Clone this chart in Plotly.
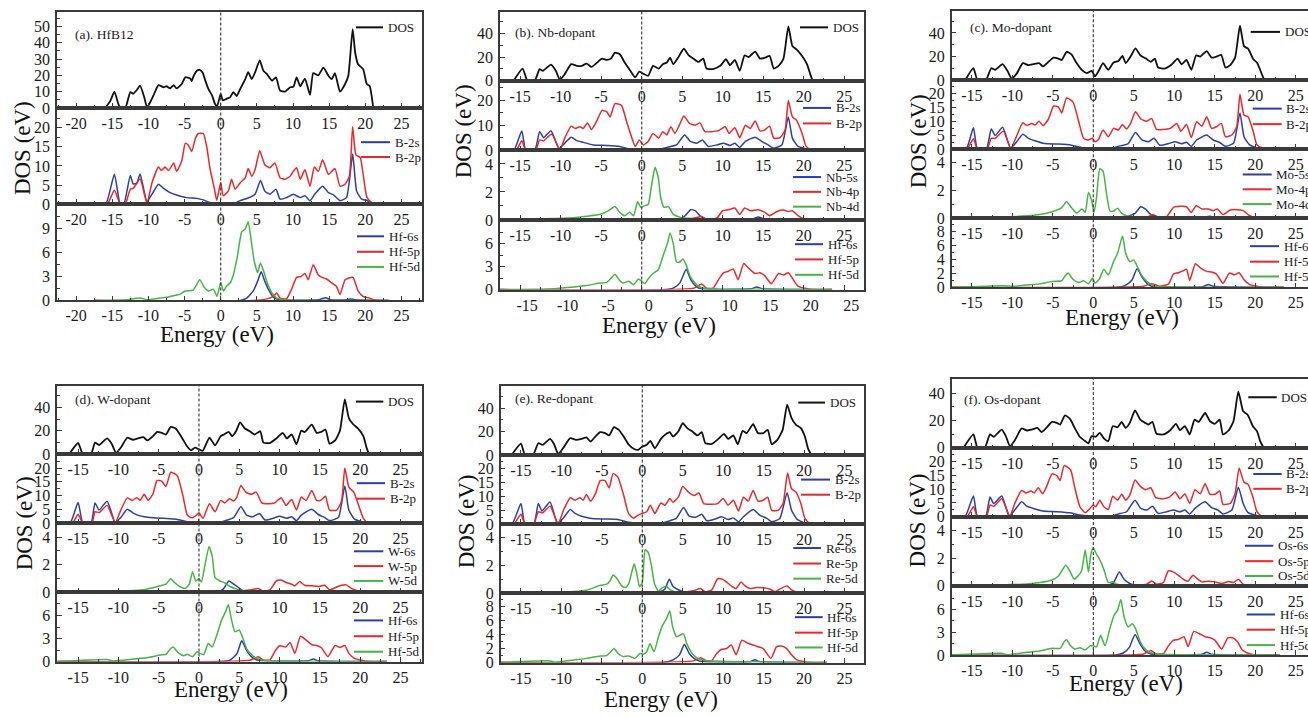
import plotly.graph_objects as go

# ---------------- DATA (energy eV, DOS) ----------------
HFB12_DOS = [(-16,0),(-15.3,4),(-14.7,10),(-14.2,3),(-13.9,0),(-13.2,0),(-12.5,9.7),(-12.1,8.7),(-11.6,11),(-11.15,13.7),(-10.6,7),(-10.2,0.5),(-9.8,3),(-9.3,7.7),(-8.6,14),(-7.9,12.7),(-7.5,13.3),(-7,12),(-6.5,14),(-6.1,12),(-5.4,14.7),(-4.9,18.8),(-4.2,18),(-4,16.5),(-3.8,19),(-3.3,22.8),(-2.9,23.4),(-2.5,21.8),(-2.2,17.7),(-1.7,11.7),(-1.2,7.7),(-0.8,2.6),(-0.5,1),(0,8.7),(0.3,4.6),(0.8,5.6),(1.3,6.5),(1.75,9.7),(2.2,7.3),(2.7,11.7),(3.4,17.7),(3.8,22),(4.3,17.7),(4.75,21.8),(5.4,29.2),(5.9,22.8),(6.4,20.8),(7.1,16.7),(7.65,18.8),(8.2,10.7),(8.9,10),(9.6,12.7),(10.05,13),(10.5,18.8),(11,13.3),(11.65,18),(12.35,8),(12.8,21.4),(13.5,20),(14.2,24.8),(14.9,19.8),(15.35,17.7),(15.8,21.4),(16.5,10),(17.2,14.7),(17.65,19.8),(18.25,48.4),(18.6,33.9),(19,26.8),(19.7,23.8),(20.2,14.7),(20.6,13.5),(21.1,0)]
HFB12_B2S = [(-17.5,0),(-15.9,0),(-14.7,7.8),(-13.9,0),(-13.4,0),(-12.5,7.5),(-12.1,5.3),(-11.6,5.5),(-11.15,7.9),(-10.2,0.7),(-9.5,2.6),(-8.6,5.2),(-7.9,4.1),(-7,3),(-6.1,2.4),(-4.7,1.7),(-3.3,1.5),(-2.4,1.1),(-1.5,0.4),(-0.55,0.1),(1.75,0.1),(2.7,0.9),(3.8,1.6),(4.75,2.6),(5.5,6.2),(6.1,3.4),(6.8,2.6),(7.65,3.9),(8.2,1.3),(9.1,1.7),(10.05,2.6),(11,1.7),(11.65,2.2),(12.35,0.9),(13,2.6),(14.1,4.7),(14.9,3),(15.6,2.4),(16.5,0.9),(17.4,1.7),(18.25,13.1),(18.8,3.4),(19.5,1.3),(20.2,1.0),(20.9,0.2),(21.6,0),(23.2,0)]
HFB12_B2P = [(-17.5,0),(-15.7,0),(-14.7,3.6),(-13.9,0),(-13.2,0),(-12.5,3.9),(-12.1,4.1),(-11.15,6.6),(-10.2,0.2),(-9.5,5.6),(-8.6,9.7),(-8.2,8.8),(-7.7,9.7),(-7.2,8.8),(-6.5,10.8),(-6.1,8.6),(-5.4,11.2),(-4.9,15.9),(-4.5,15.5),(-4,13.8),(-3.5,17.2),(-3.1,18.5),(-2.4,18.5),(-1.9,14.7),(-1.5,9.5),(-0.9,4.3),(-0.55,1),(0,5.6),(0.35,2.2),(1.05,3.4),(1.5,6.5),(2,3.9),(2.7,5.6),(3.4,6.9),(3.8,9.3),(4.3,7.3),(4.75,9),(5.4,14),(6.1,10.3),(6.8,9.5),(7.5,10.8),(8.2,6.9),(8.9,6.5),(9.6,7.3),(10.05,8.6),(10.5,9.5),(11,6.5),(11.65,9),(12.35,4.7),(12.95,9.7),(13.5,8.6),(14.1,11.6),(14.9,7.8),(15.8,9.3),(16.5,4.7),(17.2,5.2),(17.8,7.3),(18.25,20.3),(18.7,12.9),(19.3,12.2),(19.7,7.8),(20.2,1.9),(20.7,0.7),(21.1,0.2),(23.2,0)]
HFB12_HF6S = [(-17.5,0),(2.7,0),(3.6,0.3),(4.5,1.2),(5.1,2.4),(5.6,3.6),(6.1,2.4),(6.6,1.4),(7.3,0.4),(8.2,0.1),(13.5,0.1),(14.5,0.35),(15.2,0.1),(17.5,0.1),(18,0.2),(18.5,0.1),(23.2,0)]
HFB12_HF5P = [(-17.5,0),(4.5,0),(6.4,0.2),(7.3,0.5),(7.75,0.95),(8.2,0.3),(9.1,0.2),(9.8,1.4),(10.5,2.9),(11.1,3.0),(11.65,3.4),(12.1,2.6),(12.8,4.5),(13.5,3.2),(14,2.9),(14.65,2.7),(15.35,2.2),(16,1.8),(16.5,0.75),(17.2,2.6),(17.65,2.8),(18.3,2.9),(19,1.2),(19.7,0.5),(20.6,0.3),(21.3,0.05),(23.2,0)]
HFB12_HF5D = [(-17.5,0),(-13,0.1),(-11.15,0.3),(-10.2,0.1),(-8.4,0.3),(-7.5,0.4),(-6.5,0.6),(-5.6,0.8),(-4.9,1.2),(-3.8,1.3),(-2.9,2.6),(-2.3,1.7),(-1.7,1.2),(-1,1.4),(-0.5,0.5),(0,2.3),(0.35,1.2),(0.8,1.8),(1.3,2.2),(1.75,3.2),(2.3,5.5),(2.9,8.6),(3.4,9.0),(3.8,9.9),(4.15,8),(4.6,5.1),(5.1,3.5),(5.5,4.7),(6,3.5),(6.45,2.2),(7.05,1),(7.75,0.3),(8.7,0.1),(23.4,0)]

NB_DOS = [(-15.8,0),(-14.7,10.3),(-14.1,0),(-13.2,0),(-12.6,9.8),(-12.2,8.4),(-11.2,13.7),(-10.6,8.4),(-10.1,0.8),(-9.5,5.6),(-8.7,14),(-8,12.6),(-7.4,12.6),(-6.8,14.5),(-6.2,11.7),(-5.6,14.8),(-4.9,18.7),(-4.3,17.6),(-3.8,18.7),(-3.3,23.8),(-2.7,22.4),(-2.1,15.4),(-1.4,8.4),(-0.8,2.8),(-0.3,7.6),(0.3,5.6),(0.8,4.2),(1.4,12.6),(2.1,10.3),(2.6,14),(3.1,15.4),(3.5,19.6),(3.9,14),(4.5,19.6),(5.2,27.1),(5.8,21.5),(6.4,18.7),(7,15.9),(7.6,18.7),(8,10.3),(8.8,9.8),(9.7,12.6),(10.4,18.2),(10.9,13.1),(11.5,17.6),(12.1,8.4),(12.7,21.5),(13.2,20.1),(14,24.6),(14.6,18.7),(15.2,19.5),(15.8,21),(16.3,10.3),(16.9,12.6),(17.5,18.7),(18.1,46),(18.6,29.4),(19.1,26.6),(19.8,21),(20.4,14),(20.8,5.6),(21.1,0)]
NB_B2S = [(-17.5,0),(-15.8,0),(-14.8,7.8),(-14.3,0),(-13.2,0),(-12.6,7.5),(-12.1,5.1),(-11.2,7.9),(-10.2,0.7),(-9.5,2.9),(-8.7,5.3),(-8,3.9),(-7.2,3.2),(-6,2.2),(-4.3,2),(-2.7,1.6),(-1.4,0.5),(-0.2,0.1),(1.85,0.2),(3.1,1.2),(4.3,2.2),(5.3,6.2),(6,3.6),(6.8,2.9),(7.5,4.2),(8.2,1.6),(9.3,2.2),(10.1,2.9),(10.9,2),(11.5,2.9),(12.1,1.2),(12.8,3.6),(14,5.3),(14.8,3.6),(15.6,2.2),(16.3,0.9),(17.3,2.2),(18.1,13.4),(18.6,4.9),(19.3,1.6),(20.2,0.7),(20.8,0),(23.5,0)]
NB_B2P = [(-17.5,0),(-15.5,0),(-14.8,3.9),(-14.3,0),(-13.1,0),(-12.6,4.2),(-12.1,3.8),(-11.1,6.6),(-10.1,0.3),(-9.5,4.9),(-8.7,9.7),(-8.2,8.8),(-7.6,9.5),(-7.2,8.8),(-6.7,11),(-6.2,8.4),(-5.6,11.4),(-4.9,16),(-4.3,15.4),(-3.9,13.4),(-3.3,18.7),(-2.5,18),(-1.85,11.4),(-1.2,4.9),(-0.8,1.6),(-0.3,4.2),(0.2,2.2),(0.8,3.6),(1.4,6.8),(2.1,4.9),(2.6,7.5),(3.1,6.2),(3.6,9.5),(4.1,6.8),(4.65,10.1),(5.2,13.8),(5.9,10.8),(6.6,10.1),(7.2,11),(7.8,7.5),(8.6,7.5),(9.5,7.9),(10.3,9.5),(10.8,6.8),(11.5,9.1),(12.1,5.1),(12.8,10.1),(13.4,8.8),(14,11.8),(14.6,7.8),(15.2,8.2),(15.8,9.7),(16.3,4.9),(17.1,5.1),(17.7,8.2),(18.1,20),(18.6,13.4),(19.1,12.1),(19.8,6.8),(20.3,1.6),(20.9,0.3),(23.7,0)]
NB_NB5S = [(-17.5,0),(4.7,0),(5.35,0.3),(6.05,0.73),(6.6,0.66),(7.2,0.3),(7.8,0.07),(13.5,0.05),(14.4,0.2),(15.2,0.05),(15.8,0.1),(16.5,0),(23.5,0)]
NB_NB4P = [(-17.5,0),(3.9,0.05),(6.4,0.12),(7.4,0.24),(8,0.05),(9.3,0.14),(10,0.66),(10.7,0.73),(11.5,0.85),(12.1,0.38),(12.7,0.85),(13.4,0.66),(14.4,0.73),(15.2,0.54),(15.8,0.3),(16.7,0.6),(17.5,0.7),(18.1,0.6),(18.6,0.66),(19.3,0.3),(20,0.07),(20.8,0),(23.5,0)]
NB_NB4D = [(-17.5,0),(-10.9,0.1),(-8.4,0.15),(-6.8,0.26),(-5.1,0.4),(-4.1,0.66),(-3.3,0.96),(-2.7,0.54),(-2.1,0.3),(-1.5,0.54),(-1,0.3),(-0.5,1.3),(-0.1,0.9),(0.3,1.0),(0.8,1.1),(1.2,2.4),(1.65,3.76),(2.05,3.0),(2.35,1.6),(2.75,0.9),(3.3,0.95),(3.9,0.4),(4.7,0.2),(6.4,0.07),(8,0.02),(23.5,0)]
NB_HF6S = [(-17.5,0),(3.1,0),(3.9,0.2),(4.7,0.85),(5.5,2.66),(6.05,1.3),(6.7,0.43),(7.4,0.1),(13.5,0.1),(14.2,0.35),(15,0.1),(23.5,0)]
NB_HF5P = [(-17.5,0),(6.4,0.17),(7.4,0.73),(8,0.2),(8.8,0.2),(9.6,1.5),(10.1,2.2),(10.7,2.4),(11.3,2.7),(11.9,1.3),(12.6,3.4),(13.2,2.8),(14,2.1),(14.6,2.2),(15.2,1.8),(16,0.77),(16.9,2.1),(17.5,1.9),(18.1,2.2),(18.7,1.3),(19.3,0.43),(20.2,0.17),(21,0),(23.5,0)]
NB_HF5D = [(-17.5,0),(-10.9,0.13),(-8.4,0.35),(-6.8,0.55),(-5.1,0.85),(-4.3,0.95),(-3.7,1.6),(-3.3,2.0),(-2.8,1.3),(-2.3,0.85),(-1.6,1.1),(-1,0.65),(-0.4,1.4),(0,1.1),(0.4,0.8),(0.8,1.4),(1.4,2.1),(2.05,2.6),(2.6,4.3),(3.2,6.1),(3.5,7.4),(3.9,6.0),(4.3,3.6),(4.7,3.6),(5.1,4.0),(5.5,3.2),(6,1.7),(6.5,0.95),(7,0.43),(7.8,0.17),(9.3,0.08),(23.5,0)]

MO_DOS = [(-15.8,0),(-14.8,10),(-14.3,0),(-13.25,0),(-12.6,10),(-12.1,8.7),(-11.2,13.4),(-10.6,7.8),(-10.1,1.4),(-9.5,5),(-8.7,14.3),(-8,12.6),(-7.4,13.4),(-6.7,14.3),(-6.2,11.5),(-5.55,15.4),(-4.9,19),(-4.3,18.2),(-3.9,17),(-3.3,24),(-2.7,21.8),(-2.1,14.8),(-1.4,8.4),(-0.8,5.9),(-0.2,7.8),(0.2,3.1),(0.6,7),(1.2,14.3),(1.85,8.7),(2.5,14.8),(3.1,16.2),(3.6,20.4),(4,14.3),(4.6,19.9),(5.2,26.9),(5.8,21),(6.5,18.2),(7.1,15.4),(7.6,18.2),(8,10.6),(8.85,9.8),(9.7,13.4),(10.4,18.2),(10.9,13.4),(11.5,17),(12.1,8.7),(12.7,21),(13.2,19.9),(14,24.6),(14.6,19),(15.2,19.9),(15.8,21.3),(16.3,10.6),(16.9,12.6),(17.5,19),(18.1,46.2),(18.6,28.8),(19.1,26.6),(19.75,17.6),(20.2,14.8),(20.8,5),(21.1,0)]
MO_B2S = [(-17.5,0),(-15.7,0),(-14.8,7.7),(-14.3,0),(-13.2,0),(-12.6,7.3),(-12.1,4.9),(-11.2,7.9),(-10.2,0.4),(-9.5,2.5),(-8.7,5.4),(-8,3.9),(-7.2,3),(-6,2),(-4.3,1.8),(-2.7,1.4),(-1.4,0.5),(0,0.1),(2.05,0.2),(3.1,1),(4.3,2),(5.2,6),(6,3.3),(6.8,2.7),(7.5,3.9),(8.2,1.4),(9.3,2),(10.1,2.7),(10.9,1.9),(11.5,2.5),(12.1,1),(12.75,3.3),(14,5.1),(14.8,3.3),(15.6,2.4),(16.3,1),(17.3,2.1),(18.1,13.1),(18.6,4.5),(19.3,1.5),(20.2,0.4),(20.8,0),(23.5,0)]
MO_B2P = [(-17.5,0),(-15.6,0),(-14.8,3.7),(-14.3,0),(-13.1,0),(-12.6,3.9),(-12.1,3.9),(-11.1,6.5),(-10.2,0.1),(-9.5,4.5),(-8.7,9.5),(-8.2,8.5),(-7.6,9.3),(-7.2,8.7),(-6.7,10.1),(-6.2,8.5),(-5.55,10.8),(-4.9,15.6),(-4.3,15.2),(-3.9,13.1),(-3.3,18.5),(-2.5,17),(-1.85,10.5),(-1.2,3.9),(-0.6,3.3),(-0.1,3.9),(0.2,2.7),(0.6,3.3),(1.2,6.9),(1.85,4.5),(2.5,7.5),(3.1,6.9),(3.6,8.9),(4.1,7.3),(4.6,9.3),(5.2,13.5),(5.9,10.8),(6.6,10.1),(7.2,11.1),(7.8,7.1),(8.6,7.1),(9.5,7.5),(10.3,9.3),(10.8,6.5),(11.5,8.9),(12.1,4.2),(12.75,9.9),(13.4,8.3),(14,11.7),(14.6,7.5),(15.2,8.1),(15.8,9.3),(16.3,4.5),(17.1,5.1),(17.7,8.1),(18.1,19.8),(18.6,12.3),(19.1,11.7),(19.75,6.3),(20.2,1.5),(20.9,0.4),(23,0)]
MO_MO5S = [(-17.5,0),(3.7,0),(4.5,0.17),(5.15,0.33),(5.85,0.81),(6.4,0.65),(7,0.3),(7.6,0.1),(13.5,0.05),(14.4,0.12),(15.2,0.02),(23.5,0)]
MO_MO4P = [(-17.5,0),(6.6,0.05),(7.4,0.24),(8,0.05),(9.05,0.1),(9.9,0.77),(10.7,0.84),(11.5,0.81),(12.1,0.4),(12.7,0.89),(13.4,0.65),(14.2,0.65),(14.8,0.53),(15.3,0.65),(16,0.24),(16.9,0.57),(17.7,0.6),(18.5,0.53),(19.1,0.24),(19.75,0.05),(20.6,0),(23.5,0)]
MO_MO4D = [(-17.5,0),(-11.1,0.07),(-8.2,0.15),(-6.6,0.25),(-5.1,0.45),(-3.9,0.75),(-3.3,1.17),(-2.7,0.75),(-2.05,0.35),(-1.4,0.65),(-1,0.4),(-0.6,1.85),(-0.2,1.25),(0.1,0.4),(0.4,1.5),(0.8,3.57),(1.2,3.4),(1.65,1.7),(2.05,0.5),(2.5,0.5),(3,0.7),(3.5,0.33),(4.3,0.12),(5.8,0.05),(23.5,0)]
MO_HF6S = [(-17.5,0),(3.1,0),(4.1,0.4),(4.8,1.1),(5.4,2.67),(6.05,1.4),(6.6,0.6),(7.2,0.15),(13.5,0.1),(14.2,0.4),(14.8,0.15),(23.5,0)]
MO_HF5P = [(-17.5,0),(6.2,0.15),(7,0.5),(7.6,0.4),(8.2,0.15),(9.3,0.5),(9.9,1.95),(10.5,2.1),(11.1,2.4),(11.5,2.6),(11.9,1.0),(12.6,3.4),(13.25,2.76),(14,2.3),(14.6,2.2),(15.2,1.9),(16,0.6),(16.8,2.05),(17.4,1.8),(18,2.1),(18.6,1.1),(19.3,0.4),(20.2,0.15),(20.8,0),(23.5,0)]
MO_HF5D = [(-17.5,0),(-11.1,0.24),(-9.9,0.15),(-8.2,0.33),(-6.6,0.5),(-5.1,0.86),(-3.9,0.95),(-3.5,1.6),(-3.1,2.05),(-2.55,1.2),(-1.85,0.7),(-1.2,0.95),(-0.6,0.5),(-0.1,1.33),(0.2,0.6),(0.75,1.2),(1.3,2.6),(1.85,1.8),(2.5,3.7),(3,4.9),(3.6,7.4),(4,4.9),(4.5,3.7),(5,3.95),(5.4,3.1),(6,1.67),(6.6,0.86),(7.2,0.4),(7.8,0.15),(23.5,0)]

W_DOS = [(-16.1,0),(-15,9.6),(-14.4,0),(-13.4,0),(-12.9,9.9),(-12.4,7.9),(-11.4,13.5),(-10.8,8.5),(-10.3,1.1),(-9.7,5.6),(-8.9,14.1),(-8.2,12.4),(-7.6,13.5),(-6.9,14.6),(-6.4,11.8),(-5.7,15.5),(-5.2,19.2),(-4.6,18.3),(-4.1,16.9),(-3.5,23.4),(-2.9,22),(-2.15,14.6),(-1.5,7),(-1,3.4),(-0.5,5.6),(0,4.2),(0.45,2.8),(1.3,14.1),(2,7.6),(2.7,15.5),(3.1,16.9),(3.7,19.2),(4.1,15.5),(4.6,19.7),(5.1,27.3),(5.7,22),(6.3,19.7),(6.9,16.9),(7.6,19.7),(8,9.9),(8.8,9.6),(9.6,13.5),(10.4,18.3),(10.9,13.5),(11.5,16.9),(12.1,8.5),(12.7,20.3),(13.1,18.9),(14,25.4),(14.6,18.3),(15.1,18.9),(15.7,21.1),(16.2,9),(16.9,11.8),(17.5,20.3),(18.1,47),(18.6,31),(19.1,25.9),(19.75,22),(20.4,15.5),(20.8,5.6),(21.1,0)]
W_B2S = [(-17.6,0),(-16,0),(-15,7.5),(-14.4,0),(-13.4,0),(-12.9,7.4),(-12.4,4.8),(-11.4,8),(-10.4,0.4),(-9.7,2.1),(-8.9,5.1),(-8.1,3.6),(-7.3,2.7),(-6.1,2.1),(-4.4,1.8),(-2.8,1.5),(-1.5,0.6),(0,0.2),(2.2,0.2),(3.2,0.9),(4.3,2.1),(5.2,6),(5.9,3),(6.7,2.4),(7.5,3.6),(8.2,1.2),(9.2,1.8),(10,2.6),(10.9,1.8),(11.5,2.4),(12.1,1),(12.7,3),(14,5.1),(14.8,3.2),(15.6,2.1),(16.2,1),(17.3,2.1),(18.1,13.5),(18.6,4.8),(19.3,1.5),(20.2,0.6),(20.8,0),(23.3,0)]
W_B2P = [(-17.6,0),(-15.7,0),(-15,3.3),(-14.4,0),(-13.3,0),(-12.9,4.2),(-12.4,3.9),(-11.4,6.5),(-10.4,0.2),(-9.7,4.8),(-8.9,9.2),(-8.3,8.3),(-7.7,9.3),(-7.3,8.3),(-6.8,10.5),(-6.3,8.3),(-5.7,10.7),(-5.2,15.5),(-4.6,15.2),(-4.1,13.3),(-3.5,18.5),(-2.7,17.3),(-2,10.1),(-1.45,3),(-0.9,2),(-0.3,3),(0,3.8),(0.5,1.8),(1.3,7.1),(2,4.2),(2.7,8.3),(3.2,7.4),(3.8,8.9),(4.3,8.1),(4.7,9.5),(5.2,13.7),(5.8,11.3),(6.5,10.5),(7.1,11.3),(7.8,7.4),(8.6,7.1),(9.4,7.4),(10.2,9.3),(10.8,6.5),(11.5,8.6),(12.1,4.8),(12.7,9.5),(13.3,8.3),(14,11.9),(14.6,8.3),(15.1,8.3),(15.7,9.8),(16.2,4.8),(17.1,4.8),(17.7,8.1),(18.1,20),(18.6,13.1),(19.2,11.3),(19.75,7.1),(20.4,1.8),(21,0.2),(23.3,0)]
W_W6S = [(-17.6,0),(2.2,0),(3,0.24),(3.7,0.83),(4.3,0.6),(4.9,0.36),(5.5,0.1),(13.5,0.05),(14,0.1),(14.6,0.02),(23.3,0)]
W_W5P = [(-17.6,0),(4.3,0.07),(6.3,0.17),(7.35,0.29),(8,0.07),(8.8,0.19),(9.6,0.83),(10.2,0.9),(10.9,0.7),(11.5,0.6),(11.9,0.48),(12.5,0.79),(13.1,0.52),(14,0.48),(14.8,0.43),(15.6,0.52),(16.2,0.19),(17.1,0.4),(17.7,0.52),(18.3,0.55),(18.9,0.29),(19.75,0.1),(20.6,0),(23.3,0)]
W_W5D = [(-17.6,0),(-11.4,0.07),(-8.1,0.14),(-6.5,0.24),(-4.8,0.48),(-4.1,0.6),(-3.5,1.0),(-3,0.7),(-2.4,0.43),(-1.7,0.29),(-1.2,0.6),(-0.8,1.5),(-0.4,0.83),(0,1.0),(0.3,0.76),(0.75,2.0),(1.25,3.33),(1.65,2.6),(2,1.07),(2.6,0.83),(3.2,0.7),(3.85,0.43),(4.7,0.24),(5.9,0.1),(23.3,0)]
W_HF6S = [(-17.6,0),(2.6,0),(3.85,0.2),(4.7,1.0),(5.3,2.7),(5.9,1.5),(6.5,0.64),(7.35,0.17),(13.5,0.1),(14.2,0.34),(14.8,0.1),(23.3,0)]
W_HF5P = [(-17.6,0),(6.3,0.17),(7.35,0.64),(8,0.2),(8.8,0.2),(9.4,1.3),(10,2.06),(10.8,1.9),(11.3,2.5),(11.9,1.07),(12.6,3.3),(13.3,2.8),(14,2.2),(14.6,2.1),(15.2,1.8),(16,0.64),(16.9,2.1),(17.5,1.84),(18.1,2.1),(18.6,1.07),(19.3,0.43),(20.2,0.17),(21,0),(23.3,0)]
W_HF5D = [(-17.6,0),(-11.4,0.26),(-10.6,0.09),(-8.1,0.34),(-6.5,0.5),(-4.8,0.86),(-4.1,0.94),(-3.6,1.6),(-3.2,1.9),(-2.6,1.16),(-1.9,0.77),(-1.45,0.94),(-0.8,0.64),(-0.2,1.3),(0.1,1.07),(0.6,0.94),(1.15,2.36),(1.65,1.9),(2.2,3.4),(2.8,5.4),(3.3,6.5),(3.65,7.4),(4.05,5.4),(4.45,3.9),(5,4.1),(5.4,3.2),(5.9,1.7),(6.5,0.94),(7.15,0.43),(8,0.17),(23.3,0)]

RE_DOS = [(-16.15,0),(-15,9.7),(-14.5,0),(-13.5,0),(-12.85,10),(-12.3,8.6),(-11.4,13.7),(-10.9,9.1),(-10.4,0.9),(-9.8,5.7),(-8.9,14.3),(-8.2,12.9),(-7.5,13.7),(-6.9,14.9),(-6.4,11.4),(-5.8,15.7),(-5.2,19.4),(-4.6,18.6),(-4.1,16.6),(-3.5,23.7),(-2.9,21.4),(-2.3,15.7),(-1.65,8.6),(-1,5.1),(-0.5,4.3),(0,7.1),(0.55,8.6),(1,12),(1.55,5.7),(2.3,13.7),(2.8,17.1),(3.4,19.4),(3.8,15.7),(4.45,20),(5,27.1),(5.55,22.9),(6.2,20),(6.8,16.6),(7.35,19.4),(7.8,10),(8.6,9.4),(9.4,13.7),(10.1,18),(10.6,13.7),(11.25,16.6),(11.8,9.1),(12.4,20.6),(12.9,18.6),(13.7,26.3),(14.3,18.6),(14.95,18.6),(15.5,21.4),(16,9.1),(16.7,12.9),(17.35,21.4),(17.9,42.9),(18.45,31.4),(19,25.7),(19.6,22.9),(20.1,15.7),(20.5,5.1),(20.9,0)]
RE_B2S = [(-17.6,0),(-16.1,0),(-15,7.3),(-14.5,0),(-13.4,0),(-12.85,7.3),(-12.4,4.7),(-11.4,7.9),(-10.5,0.2),(-9.8,2),(-8.9,5.2),(-8.3,3.8),(-7.5,2.8),(-6.3,2),(-4.6,1.8),(-3,1.6),(-1.7,0.6),(0,0.2),(2.2,0.2),(3.2,1),(4.2,2),(5.1,5.9),(5.8,2.8),(6.6,2.4),(7.35,3.5),(7.95,1.2),(9,1.8),(9.8,2.6),(10.6,1.6),(11.25,2.2),(11.9,0.8),(12.5,2.6),(13.7,5.2),(14.5,3.2),(15.4,2),(16,0.8),(17,2),(17.9,11.2),(18.45,4.9),(19.1,1.8),(19.9,0.6),(20.5,0),(22.8,0)]
RE_B2P = [(-17.6,0),(-15.9,0),(-15,3.5),(-14.5,0),(-13.4,0),(-12.85,4.4),(-12.3,4.0),(-11.4,6.4),(-10.4,0.2),(-9.7,5.2),(-8.9,9.4),(-8.3,8.5),(-7.7,9.4),(-7.3,8.5),(-6.9,10.6),(-6.4,8.2),(-5.8,10.8),(-5.2,15.5),(-4.6,15.5),(-4.1,12.9),(-3.6,18.1),(-3,16.7),(-2.35,10.8),(-1.7,3.8),(-1.1,2.1),(-0.5,3.2),(0,3.8),(0.55,4.4),(1,6.7),(1.55,3.8),(2.3,7.5),(2.8,6.7),(3.4,9.1),(3.8,7.8),(4.45,9.6),(5,13.4),(5.7,11.4),(6.4,10.2),(7,11.1),(7.6,7.3),(8.4,7.1),(9.3,7.3),(10,9.1),(10.6,6.7),(11.25,8.5),(11.9,4.7),(12.5,9.6),(13.1,8.2),(13.7,12),(14.3,8.2),(14.95,8.5),(15.5,9.6),(16,4.9),(16.8,4.9),(17.4,7.3),(17.95,18.2),(18.45,12.6),(19,11.4),(19.6,7.3),(20.1,2),(20.7,0.2),(22.8,0)]
RE_RE6S = [(-17.6,0),(2.2,0.1),(2.8,0.3),(3.35,1.0),(3.8,0.47),(4.45,0.24),(5.3,0.07),(13.3,0.05),(13.9,0.1),(14.5,0.02),(22.8,0)]
RE_RE5P = [(-17.6,0),(4.65,0.05),(6.3,0.17),(7.2,0.33),(7.75,0.1),(8.6,0.24),(9.3,1.03),(9.9,1.0),(10.5,0.75),(11,0.52),(11.6,0.33),(12.2,0.8),(12.7,0.52),(13.3,0.33),(14.1,0.4),(14.95,0.38),(15.8,0.28),(16.4,0.1),(17.1,0.33),(17.9,0.52),(18.45,0.24),(19.3,0.05),(20.1,0),(22.8,0)]
RE_RE5D = [(-17.6,0),(-11.4,0.07),(-8.5,0.12),(-6.9,0.21),(-5.2,0.56),(-4.4,0.64),(-4,0.87),(-3.6,1.3),(-3.2,1.1),(-2.55,0.52),(-2.1,0.4),(-1.7,0.64),(-1.3,1.5),(-1,2.1),(-0.7,1.46),(-0.35,0.47),(0,0.75),(0.35,3.1),(0.75,2.9),(1.15,1.9),(1.5,0.7),(2,0.14),(2.5,0.4),(3,0.47),(3.5,0.21),(4.25,0.07),(22.8,0)]
RE_HF6S = [(-17.6,0),(2.6,0),(3.8,0.38),(4.6,1.1),(5.2,2.6),(5.8,1.3),(6.4,0.6),(7.1,0.2),(13.3,0.1),(13.9,0.4),(14.5,0.14),(22.8,0)]
RE_HF5P = [(-17.6,0),(6.3,0.24),(7.2,0.7),(7.95,0.24),(8.6,0.28),(9.2,1.3),(9.8,1.9),(10.4,2.0),(11,2.5),(11.6,1.1),(12.3,3.2),(13,2.8),(13.7,2.5),(14.3,2.26),(14.95,2.0),(15.9,0.6),(16.6,2.26),(17.2,2.35),(17.85,2.0),(18.45,1.1),(19.1,0.38),(19.9,0.14),(20.7,0),(22.8,0)]
RE_HF5D = [(-17.6,0),(-11.4,0.24),(-10.8,0.05),(-8.5,0.38),(-6.9,0.6),(-5.2,0.94),(-4.4,1.0),(-3.9,1.55),(-3.5,2.0),(-3,1.3),(-2.35,0.85),(-1.7,0.94),(-0.9,0.6),(-0.3,1.3),(0.1,1.2),(0.55,1.55),(0.95,2.7),(1.45,1.55),(2,3.67),(2.5,5.3),(3,6.26),(3.4,7.4),(3.75,5.1),(4.25,3.67),(4.65,3.9),(5.1,4.1),(5.5,2.7),(6.1,1.4),(6.7,0.7),(7.5,0.33),(22.8,0)]

OS_DOS = [(-16,0),(-14.8,9.7),(-14.3,0),(-13.4,0),(-12.75,9.7),(-12.3,8),(-11.3,13.3),(-10.8,8.5),(-10.3,1.2),(-9.7,5.3),(-8.85,14.1),(-8.2,12.6),(-7.6,13.3),(-6.9,14.5),(-6.4,11.4),(-5.8,14.5),(-5.1,18.9),(-4.5,18.2),(-4.1,17),(-3.5,23.8),(-2.9,21.3),(-2.3,14.5),(-1.65,7.8),(-1,4.8),(-0.6,3.2),(-0.2,8.5),(0.3,8),(0.8,10.9),(1.3,6.8),(1.85,4.8),(2.4,15.8),(3,15),(3.5,18.9),(4,14.5),(4.5,18.2),(5.15,27.4),(5.8,20.6),(6.4,18.2),(6.8,17),(7.3,18.9),(7.8,10.2),(8.65,9.7),(9.5,12.8),(10.2,17.5),(10.7,12.8),(11.3,15.8),(11.9,9.7),(12.5,20.6),(13,18.9),(13.8,25.5),(14.4,19.4),(15,17.5),(15.6,20.6),(16,9.7),(16.7,12.6),(17.3,19.4),(17.9,41.2),(18.5,26.7),(19.05,24.2),(19.7,15.8),(20.2,12.1),(20.6,4.8),(21,0)]
OS_B2S = [(-17.5,0),(-15.85,0),(-14.8,7.5),(-14.3,0),(-13.3,0),(-12.75,7.1),(-12.3,4.8),(-11.3,7.5),(-10.4,0.2),(-9.7,2.4),(-8.85,5.4),(-8.2,3.8),(-7.4,3),(-6.2,2.1),(-4.5,1.8),(-2.9,1.4),(-1.65,0.6),(0,0.2),(2.05,0.2),(3.1,1),(4.1,1.8),(5.15,6),(5.85,3),(6.6,2.4),(7.3,3.8),(8,1.2),(9.05,1.8),(9.9,2.4),(10.7,1.8),(11.3,2.4),(11.9,1),(12.55,3),(13.8,5.4),(14.6,3.3),(15.4,2.4),(16,1),(17.1,2.4),(17.9,10.7),(18.5,4.8),(19.1,1.5),(20,0.6),(20.6,0),(23,0)]
OS_B2P = [(-17.5,0),(-15.6,0),(-14.8,3.6),(-14.3,0),(-13.2,0),(-12.75,4.2),(-12.3,3.8),(-11.3,6.5),(-10.3,0.2),(-9.7,4.8),(-8.85,9.5),(-8.3,8.6),(-7.7,9.3),(-7.3,8.6),(-6.8,10.5),(-6.25,8.3),(-5.8,10.7),(-5.1,15.5),(-4.5,14.9),(-4.1,13.1),(-3.6,18.5),(-2.8,16.9),(-2.3,10.7),(-1.65,3.6),(-1,1.4),(-0.6,2.4),(0,4.2),(0.3,3.6),(0.8,6),(1.3,3.6),(1.85,2.6),(2.4,7.4),(3,6),(3.5,8.1),(4,6),(4.5,7.7),(5.15,13.3),(5.8,11),(6.5,9.8),(7.1,10.5),(7.7,6.9),(8.6,6.5),(9.4,7.1),(10.1,8.9),(10.7,6.5),(11.3,8.3),(11.9,4.8),(12.55,9.8),(13.2,8.3),(13.8,11.9),(14.4,8.1),(15,8.1),(15.6,9.3),(16,4.5),(16.9,4.8),(17.5,8.3),(18,17.6),(18.6,12.5),(19.1,11.7),(19.7,7.1),(20.2,1.8),(20.8,0.2),(23,0)]
OS_OS6S = [(-17.5,0),(1.6,0),(2.5,0.24),(3.2,1.0),(3.8,0.48),(4.45,0.19),(5.15,0.05),(13.8,0.05),(14.4,0.07),(15,0),(23,0)]
OS_OS5P = [(-17.5,0),(4.9,0.05),(6.6,0.12),(7.2,0.36),(7.8,0.12),(8.65,0.24),(9.25,1.08),(9.9,1.0),(10.5,0.77),(11.1,0.48),(11.7,0.34),(12.3,0.77),(12.8,0.53),(13.4,0.29),(14.2,0.34),(15,0.29),(15.85,0.17),(16.7,0.31),(17.3,0.24),(17.9,0.48),(18.5,0.12),(19.1,0),(23,0)]
OS_OS5D = [(-17.5,0),(-11.3,0.07),(-8.2,0.14),(-6.6,0.24),(-5.1,0.43),(-4.3,0.72),(-3.9,1.08),(-3.4,1.5),(-2.9,1.08),(-2.35,0.48),(-1.9,0.72),(-1.45,1.08),(-1,2.6),(-0.6,1.0),(-0.3,2.3),(0,2.75),(0.4,2.3),(0.8,1.9),(1.3,1.2),(1.85,0.24),(2.4,0.29),(2.9,0.12),(3.7,0.05),(23,0)]
OS_HF6S = [(-17.5,0),(2.8,0),(3.7,0.26),(4.45,1.0),(5.15,2.7),(5.8,1.4),(6.4,0.52),(7.1,0.13),(13.4,0.1),(14,0.35),(14.6,0.1),(23,0)]
OS_HF5P = [(-17.5,0),(6.2,0.13),(7.1,0.6),(7.7,0.17),(8.65,0.17),(9.25,1.17),(9.9,1.96),(10.5,2.04),(11.2,2.4),(11.7,1.1),(12.4,3.1),(13.1,2.8),(13.8,2.4),(14.4,2.26),(15,1.96),(15.85,0.78),(16.6,2.26),(17.2,2.26),(17.8,1.74),(18.4,0.65),(19.1,0.22),(20,0),(23,0)]
OS_HF5D = [(-17.5,0),(-11.3,0.22),(-10.7,0.04),(-8.2,0.35),(-6.6,0.52),(-5.1,0.87),(-4.1,0.87),(-3.6,1.74),(-3.3,2.0),(-2.8,1.2),(-2.3,0.78),(-1.65,0.95),(-1,0.65),(-0.4,1.2),(0,1.2),(0.4,1.08),(0.9,2.6),(1.45,1.2),(2.05,3.5),(2.55,5.2),(3,5.9),(3.4,7.3),(3.8,5.0),(4.3,3.7),(4.8,4.1),(5.2,3.5),(5.8,1.74),(6.4,0.78),(7,0.35),(7.8,0.13),(23,0)]

PANEL_TITLES = ["(a). HfB12", "(b). Nb-dopant", "(c). Mo-dopant", "(d). W-dopant", "(e). Re-dopant", "(f). Os-dopant"]
DOPANT_LABELS = [None, ["Nb-5s", "Nb-4p", "Nb-4d"], ["Mo-5s", "Mo-4p", "Mo-4d"],
                 ["W-6s", "W-5p", "W-5d"], ["Re-6s", "Re-5p", "Re-5d"], ["Os-6s", "Os-5p", "Os-5d"]]
B_LABELS = ["B-2s", "B-2p"]
HF_LABELS = ["Hf-6s", "Hf-5p", "Hf-5d"]
X_TICKS = [-20, -15, -10, -5, 0, 5, 10, 15, 20, 25]
Y_TICKS = {
    "a": [[0, 10, 20, 30, 40, 50], [0, 5, 10, 15, 20], [0, 3, 6, 9]],
    "b": [[0, 20, 40], [0, 10, 20], [0, 2, 4], [0, 3, 6]],
    "c": [[0, 20, 40], [0, 5, 10, 15, 20], [0, 2, 4], [0, 2, 4, 6, 8]],
    "d": [[0, 20, 40], [0, 5, 10, 15, 20], [0, 2, 4], [0, 3, 6]],
    "e": [[0, 20, 40], [0, 5, 10, 15, 20], [0, 2, 4], [0, 2, 4, 6, 8]],
    "f": [[0, 20, 40], [0, 5, 10, 15, 20], [0, 2, 4], [0, 3, 6]],
}

# ---------------- STYLE / LAYOUT ----------------
W, H = 1308, 717
FONT = "Liberation Serif"
COL = {"k": "#111111", "b": "#2c3fa6", "r": "#e8282b", "g": "#46b446"}
AX = "#3a3a3a"

def px(x):
    return x / W

def py(y):
    return 1 - y / H

PANELS = [
    dict(key="a", x0=57, x1=422, yb=[12, 109.3, 206.7, 304.3], xr=[-22.64, 27.84], ymax=[59, 25.2, 12.1],
         right=True, shift=0,
         series=[[(HFB12_DOS, "k")], [(HFB12_B2S, "b"), (HFB12_B2P, "r")],
                 [(HFB12_HF6S, "b"), (HFB12_HF5P, "r"), (HFB12_HF5D, "g")]],
         labels=[["DOS"], B_LABELS, HF_LABELS],
         leg=[(356, 383, [27.7]), (361, 390, [144, 159]), (357, 384, [239.3, 255, 270.3])],
         tpos=(72.7, 35), ypos=(22, 150), xpos=(216.5, 339)),
    dict(key="b", x0=500, x1=864, yb=[11.7, 81.7, 152.3, 222.7, 293.3], xr=[-17.49, 27.44],
         ymax=[58.7, 27.9, 4.97, 9.1], right=True, shift=7,
         series=[[(NB_DOS, "k")], [(NB_B2S, "b"), (NB_B2P, "r")],
                 [(NB_NB5S, "b"), (NB_NB4P, "r"), (NB_NB4D, "g")],
                 [(NB_HF6S, "b"), (NB_HF5P, "r"), (NB_HF5D, "g")]],
         labels=[["DOS"], B_LABELS, DOPANT_LABELS[1], HF_LABELS],
         leg=[(800, 828, [27.7]), (803, 831, [109.3, 125]), (793, 821, [179.3, 194.3, 209.3]),
              (795, 823, [247.3, 262.7, 278.3])],
         tpos=(513, 33.3), ypos=(463, 133), xpos=(659, 330)),
    dict(key="c", x0=951.7, x1=1308, yb=[11, 81, 151, 220.7, 291], xr=[-17.48, 26.5], ymax=[58.8, 25, 5, 10],
         right=False, shift=0,
         series=[[(MO_DOS, "k")], [(MO_B2S, "b"), (MO_B2P, "r")],
                 [(MO_MO5S, "b"), (MO_MO4P, "r"), (MO_MO4D, "g")],
                 [(MO_HF6S, "b"), (MO_HF5P, "r"), (MO_HF5D, "g")]],
         labels=[["DOS"], B_LABELS, DOPANT_LABELS[2], HF_LABELS],
         leg=[(1250.7, 1280, [32.3]), (1252.7, 1281.7, [110, 125.7]), (1242.7, 1271.7, [176.7, 191.7, 206.7]),
              (1250, 1279, [249.3, 265, 280])],
         tpos=(968.3, 28.3), ypos=(918, 143), xpos=(1122, 322)),
    dict(key="d", x0=57.3, x1=421.7, yb=[390.7, 460, 530, 600, 670], xr=[-17.58, 27.64], ymax=[58.6, 25, 5, 9],
         right=True, shift=0,
         series=[[(W_DOS, "k")], [(W_B2S, "b"), (W_B2P, "r")],
                 [(W_W6S, "b"), (W_W5P, "r"), (W_W5D, "g")],
                 [(W_HF6S, "b"), (W_HF5P, "r"), (W_HF5D, "g")]],
         labels=[["DOS"], B_LABELS, DOPANT_LABELS[3], HF_LABELS],
         leg=[(356, 383.3, [406.7]), (356.7, 385, [489.3, 505]), (354, 383.3, [558.3, 573.3, 588.3]),
              (354, 383, [628.3, 644.3, 660])],
         tpos=(72.7, 405), ypos=(24, 530), xpos=(231, 698)),
    dict(key="e", x0=500.7, x1=864.3, yb=[390.7, 460.7, 530.7, 600.7, 671], xr=[-17.5, 27.44],
         ymax=[59, 24.7, 4.94, 9.9], right=True, shift=0,
         series=[[(RE_DOS, "k")], [(RE_B2S, "b"), (RE_B2P, "r")],
                 [(RE_RE6S, "b"), (RE_RE5P, "r"), (RE_RE5D, "g")],
                 [(RE_HF6S, "b"), (RE_HF5P, "r"), (RE_HF5D, "g")]],
         labels=[["DOS"], B_LABELS, DOPANT_LABELS[4], HF_LABELS],
         leg=[(798.3, 825, [407.7]), (801, 830, [485.7, 501]), (793.3, 821, [555, 570.7, 586]),
              (795, 822.7, [625, 640.7, 655.7])],
         tpos=(512.7, 404), ypos=(466, 528), xpos=(661, 708)),
    dict(key="f", x0=951.7, x1=1308, yb=[384, 453.3, 523.3, 593.3, 663.3], xr=[-17.48, 26.5],
         ymax=[50.4, 25, 5.03, 9.1], right=False, shift=0,
         series=[[(OS_DOS, "k")], [(OS_B2S, "b"), (OS_B2P, "r")],
                 [(OS_OS6S, "b"), (OS_OS5P, "r"), (OS_OS5D, "g")],
                 [(OS_HF6S, "b"), (OS_HF5P, "r"), (OS_HF5D, "g")]],
         labels=[["DOS"], B_LABELS, DOPANT_LABELS[5], HF_LABELS],
         leg=[(1248.3, 1276.7, [402.3]), (1253.3, 1281.7, [480, 495]), (1245, 1273.3, [552.7, 568.3, 583.3]),
              (1246.7, 1275, [622.3, 637.7, 653.3])],
         tpos=(961.7, 405), ypos=(917, 527), xpos=(1126, 692)),
]

fig = go.Figure()
layout = dict(width=W, height=H, margin=dict(l=0, r=0, t=0, b=0), paper_bgcolor="white",
              plot_bgcolor="white", showlegend=False, font=dict(family=FONT, color="#1a1a1a"))
shapes, annotations = [], []
tickfont = dict(family=FONT, size=16, color="#1a1a1a")

n = 0
for pi, P in enumerate(PANELS):
    nsub = len(P["series"])
    first = n + 1
    for si in range(nsub):
        n += 1
        ytop, ybot = P["yb"][si], P["yb"][si + 1]
        yt = Y_TICKS[P["key"]][si]
        ydt = yt[1] - yt[0]
        xa = dict(domain=[px(P["x0"]), min(1.0, px(P["x1"]))], anchor=f"y{n}", range=P["xr"],
                  showline=True, mirror=True, linecolor=AX, linewidth=1.5, showgrid=False, zeroline=False,
                  ticks="inside", ticklen=5, tickwidth=1.2, tickcolor=AX, tickmode="array",
                  tickvals=X_TICKS, ticktext=[str(v) for v in X_TICKS], tickangle=0,
                  tickfont=tickfont, ticklabelstandoff=0,
                  minor=dict(ticks="inside", ticklen=3, tickwidth=1, tickcolor=AX, tick0=0, dtick=2.5))
        if si == nsub - 1 and P["shift"]:
            xa["ticklabelshift"] = P["shift"]
        ya = dict(domain=[py(ybot), py(ytop)], anchor=f"x{n}", range=[0, P["ymax"][si]],
                  showline=True, mirror=P["right"], linecolor=AX, linewidth=1.5, showgrid=False, zeroline=False,
                  ticks="inside", ticklen=5, tickwidth=1.2, tickcolor=AX, tickmode="array",
                  tickvals=yt, ticktext=[str(v) for v in yt],
                  tickfont=tickfont, ticklabelstandoff=2,
                  minor=dict(ticks="inside", ticklen=3, tickwidth=1, tickcolor=AX, tick0=0, dtick=ydt / 2))
        layout[f"xaxis{n}"] = xa
        layout[f"yaxis{n}"] = ya
        for data, c in P["series"][si]:
            xs = [p[0] for p in data]
            ys = [p[1] for p in data]
            fig.add_trace(go.Scatter(x=xs, y=ys, mode="lines",
                                     line=dict(color=COL[c], width=1.8 if c == "k" else 1.5,
                                               shape="spline", smoothing=0.5),
                                     xaxis=f"x{n}", yaxis=f"y{n}", hoverinfo="skip", showlegend=False))
        # legend (drawn manually)
        lx0, lx1, lys = P["leg"][si]
        for (data, c), lab, ly in zip(P["series"][si], P["labels"][si], lys):
            shapes.append(dict(type="line", xref="paper", yref="paper", x0=px(lx0), x1=px(lx1),
                               y0=py(ly), y1=py(ly), line=dict(color=COL[c], width=2)))
            annotations.append(dict(x=px(lx1 + 2.5), y=py(ly), xref="paper", yref="paper", text=lab,
                                    showarrow=False, xanchor="left", yanchor="middle",
                                    font=dict(family=FONT, size=13, color="#1a1a1a")))
    # Fermi level dashed line across the whole panel
    shapes.append(dict(type="line", xref=f"x{first}", yref="paper", x0=0, x1=0,
                       y0=py(P["yb"][-1]), y1=py(P["yb"][0]),
                       line=dict(color="#333333", width=1.1, dash="3px,2px")))
    annotations.append(dict(x=px(P["tpos"][0]), y=py(P["tpos"][1]), xref="paper", yref="paper",
                            text=PANEL_TITLES[pi], showarrow=False, xanchor="left", yanchor="middle",
                            font=dict(family=FONT, size=13.5, color="#1a1a1a")))
    annotations.append(dict(x=px(P["ypos"][0]), y=py(P["ypos"][1]), xref="paper", yref="paper",
                            text="DOS (eV)", textangle=-90, showarrow=False, xanchor="center",
                            yanchor="middle", font=dict(family=FONT, size=23, color="#111111")))
    annotations.append(dict(x=px(P["xpos"][0]), y=py(P["xpos"][1]), xref="paper", yref="paper",
                            text="Energy (eV)", showarrow=False, xanchor="center", yanchor="middle",
                            font=dict(family=FONT, size=23, color="#111111")))

layout["shapes"] = shapes
layout["annotations"] = annotations
fig.update_layout(**layout)
fig.write_html("out.html")
